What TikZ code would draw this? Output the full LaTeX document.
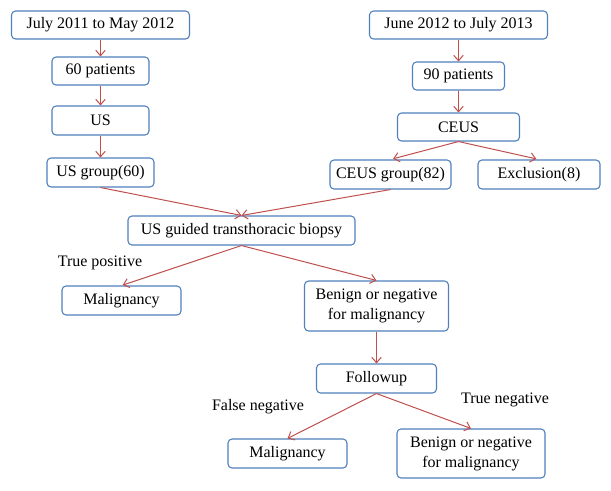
\documentclass[tikz,border=0pt]{standalone}
\usepackage{fontspec}
\setmainfont{Liberation Serif}
\usetikzlibrary{arrows.meta}
\definecolor{boxblue}{RGB}{79,129,189}
\definecolor{arrred}{RGB}{192,80,77}
\begin{document}
\begin{tikzpicture}[x=0.75pt,y=-0.75pt,
  box/.style={draw=boxblue,line width=0.8pt,rounded corners=3pt,fill=white,
    font=\fontsize{12}{15}\selectfont,align=center,inner sep=0pt},
  lbl/.style={font=\fontsize{12}{15}\selectfont,inner sep=0pt},
  arr/.style={draw=arrred,line width=0.75pt,-{Straight Barb[length=4pt,width=7pt]}}]
\useasboundingbox (0,0) rectangle (611,490);
\fill[white] (0,0) rectangle (611,490);
% left column
\node[box,minimum width=133.5pt,minimum height=21pt] (b1) at (100.5,25) {July 2011 to May 2012};
\node[box,minimum width=72.75pt,minimum height=21pt] (b2) at (100.5,71) {60 patients};
\node[box,minimum width=72.75pt,minimum height=21.75pt] (b3) at (100.5,120.5) {US};
\node[box,minimum width=80.25pt,minimum height=21.75pt] (b4) at (100.5,172.5) {US group(60)};
% right column
\node[box,minimum width=133.5pt,minimum height=21pt] (r1) at (458.5,25) {June 2012 to July 2013};
\node[box,minimum width=69pt,minimum height=21pt] (r2) at (458.5,76) {90 patients};
\node[box,minimum width=91.5pt,minimum height=21pt] (r3) at (458.5,127) {CEUS};
\node[box,minimum width=90.75pt,minimum height=21.75pt] (r4) at (390.5,174.5) {CEUS group(82)};
\node[box,minimum width=91.5pt,minimum height=21.75pt] (r5) at (539,174.5) {Exclusion(8)};
% biopsy
\node[box,minimum width=170.25pt,minimum height=21.75pt] (bio) at (241.5,230.5) {US guided transthoracic biopsy};
\node[box,minimum width=89.25pt,minimum height=21.75pt] (mal1) at (121.5,300.5) {Malignancy};
\node[box,minimum width=108pt,minimum height=37.5pt] (ben1) at (376.5,306) {Benign or negative\\for malignancy};
\node[box,minimum width=90pt,minimum height=21.75pt] (fol) at (376.5,378.5) {Followup};
\node[box,minimum width=89.25pt,minimum height=21.75pt] (mal2) at (287.5,453.5) {Malignancy};
\node[box,minimum width=111pt,minimum height=36.75pt] (ben2) at (471,453.5) {Benign or negative\\for malignancy};
% labels
\node[lbl] (tp) at (100,263) {True positive};
\node[lbl] (fn) at (258,407) {False negative};
\node[lbl] (tn) at (505,400) {True negative};
% arrows
\draw[arr] (b1.south) -- (b2.north);
\draw[arr] (b2.south) -- (b3.north);
\draw[arr] (b3.south) -- (b4.north);
\draw[arr] (r1.south) -- (r2.north);
\draw[arr] (r2.south) -- (r3.north);
\draw[arr,shorten >=2pt] (r3.south) -- (r4.north);
\draw[arr,shorten >=2pt] (r3.south) -- (r5.north);
\draw[arr] (b4.south) -- (bio.north);
\draw[arr] (r4.south) -- (bio.north);
\draw[arr,shorten >=1pt] (bio.south) -- (mal1.north);
\draw[arr] (bio.south) -- (ben1.north);
\draw[arr] (ben1.south) -- (fol.north);
\draw[arr] (fol.south) -- (mal2.north);
\draw[arr] (fol.south) -- (ben2.north);
\end{tikzpicture}
\end{document}
